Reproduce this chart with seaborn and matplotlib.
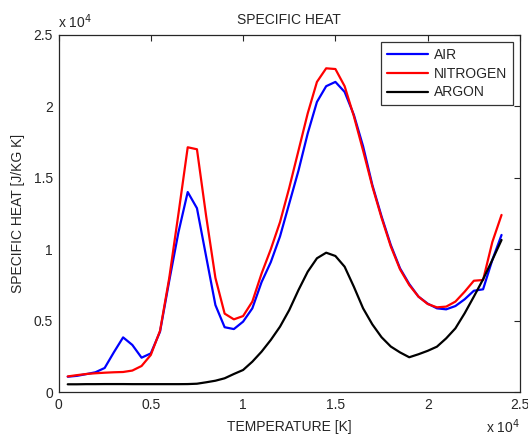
import matplotlib
matplotlib.use("Agg")
import matplotlib.pyplot as plt
import seaborn as sns
import pandas as pd

temperature = [500, 1000, 1500, 2000, 2500, 3000, 3500, 4000, 4500, 5000,
               5500, 6000, 6500, 7000, 7500, 8000, 8500, 9000, 9500, 10000,
               10500, 11000, 11500, 12000, 12500, 13000, 13500, 14000, 14500, 15000,
               15500, 16000, 16500, 17000, 17500, 18000, 18500, 19000, 19500, 20000,
               20500, 21000, 21500, 22000, 22500, 23000, 23500, 24000]

air = [1090, 1150, 1270, 1400, 1700, 2800, 3840, 3310, 2420, 2720,
       4240, 7800, 11200, 14000, 12870, 9480, 6100, 4550, 4420, 4940,
       5870, 7700, 9100, 10900, 13200, 15500, 18100, 20300, 21400, 21700,
       21000, 19400, 17200, 14500, 12300, 10300, 8670, 7570, 6690, 6200,
       5870, 5800, 6030, 6500, 7100, 7200, 9250, 11000]

nitrogen = [1110, 1200, 1280, 1330, 1370, 1400, 1420, 1520, 1840, 2610,
            4300, 8000, 12500, 17130, 16990, 12300, 8000, 5500, 5100, 5330,
            6340, 8300, 10000, 11900, 14300, 16900, 19500, 21700, 22650, 22600,
            21400, 19300, 16900, 14400, 12200, 10200, 8600, 7500, 6690, 6170,
            5940, 5990, 6340, 7030, 7800, 7850, 10500, 12400]

argon = [560, 560, 570, 570, 575, 575, 575, 570, 570, 570,
         570, 570, 570, 575, 600, 700, 810, 980, 1280, 1560,
         2140, 2840, 3660, 4590, 5750, 7150, 8430, 9370, 9760, 9530,
         8780, 7380, 5870, 4750, 3850, 3200, 2790, 2450, 2660, 2900,
         3190, 3770, 4470, 5520, 6690, 7900, 9250, 10650]

series_names = ["AIR", "NITROGEN", "ARGON"]
series_colors = ["#0000ff", "#ff0000", "#000000"]

xticks = [0, 5000, 10000, 15000, 20000, 25000]
xtick_labels = ["0", "0.5", "1", "1.5", "2", "2.5"]
yticks = [0, 5000, 10000, 15000, 20000, 25000]
ytick_labels = ["0", "0.5", "1", "1.5", "2", "2.5"]

df = pd.concat([
    pd.DataFrame({"T": temperature, "cp": vals, "gas": name})
    for name, vals in zip(series_names, [air, nitrogen, argon])
], ignore_index=True)

sns.set_style("white")
plt.rcParams["font.family"] = ["Liberation Sans", "DejaVu Sans"]
plt.rcParams["font.size"] = 10

fig = plt.figure(figsize=(5.28, 4.37), dpi=100)
ax = fig.add_axes([58.5 / 528, 1 - 392.3 / 437, (520 - 58.5) / 528, (392.3 - 34.7) / 437])

sns.lineplot(data=df, x="T", y="cp", hue="gas", hue_order=series_names,
             palette=series_colors, linewidth=1.6, ax=ax, legend=False)

ax.set_xlim(0, 25000)
ax.set_ylim(0, 25000)
ax.set_xticks(xticks)
ax.set_xticklabels(xtick_labels)
ax.set_yticks(yticks)
ax.set_yticklabels(ytick_labels)
ax.tick_params(direction="in", length=4, width=0.8, colors="#262626",
               top=True, right=True, labelsize=10, pad=4)
for s in ax.spines.values():
    s.set_visible(True)
    s.set_color("#262626")
    s.set_linewidth(0.9)

ax.set_title("SPECIFIC HEAT", fontsize=10, pad=7.5)
ax.set_xlabel("TEMPERATURE [K]", fontsize=10, labelpad=6)
ax.set_ylabel("SPECIFIC HEAT [J/KG K]", fontsize=10, labelpad=6)

ax.text(0.0, 1.018, r"x 10$^{4}$", transform=ax.transAxes, ha="left", va="baseline", fontsize=10)
ax.text(1.0, -0.1147, r"x 10$^{4}$", transform=ax.transAxes, ha="right", va="baseline", fontsize=10)

handles = [plt.Line2D([], [], color=c, linewidth=1.6) for c in series_colors]
leg = ax.legend(handles, series_names, loc="upper right", bbox_to_anchor=(0.984, 0.979),
                fontsize=10, frameon=True, fancybox=False, edgecolor="#000000",
                handlelength=3.0, handletextpad=0.4, labelspacing=0.35,
                borderpad=0.4, borderaxespad=0.0)
leg.get_frame().set_linewidth(0.9)

fig.savefig("out.png", dpi=100)
